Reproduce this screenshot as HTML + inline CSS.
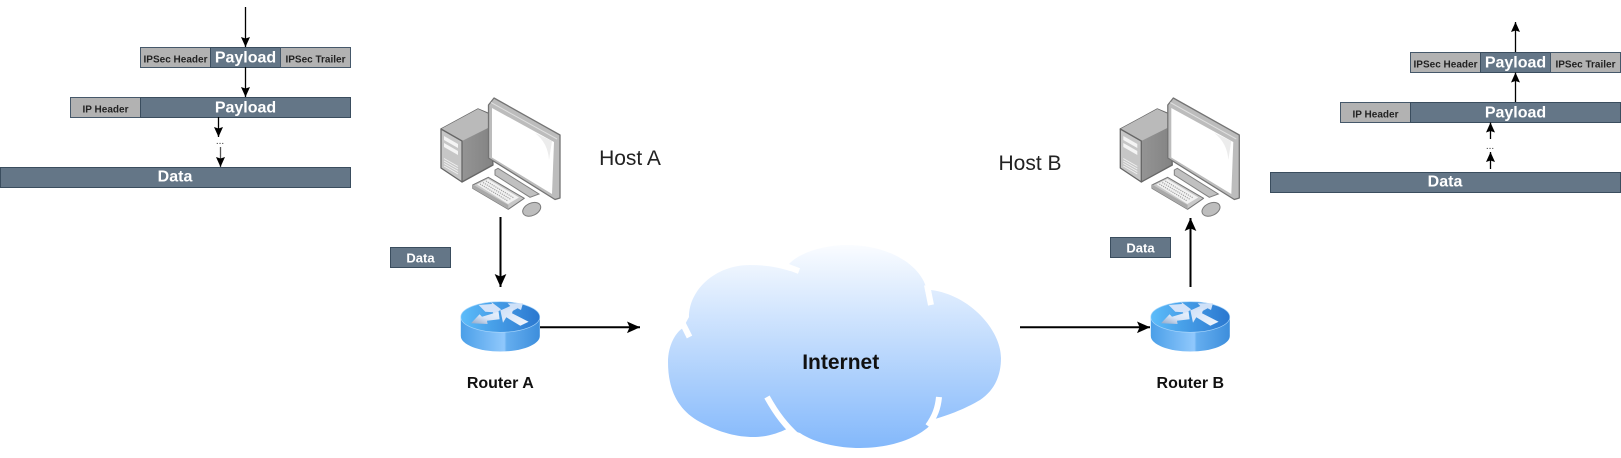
<!DOCTYPE html>
<html><head><meta charset="utf-8"><style>
html,body{margin:0;padding:0;background:#fff;width:1621px;height:458px;overflow:hidden}
svg{display:block}
text{font-family:"Liberation Sans",sans-serif}
.b{font-weight:bold;text-anchor:middle}
.h{font-size:10px;fill:#222}
.p{font-size:16px;fill:#fff}
.gray{fill:#b2b2b2;stroke:#45586a}
.blue{fill:#647687;stroke:#3a4d5e}
.l1{stroke:#000;stroke-width:1.300;fill:none;marker-end:url(#s)}
.l2{stroke:#000;stroke-width:2;fill:none;marker-end:url(#m)}
</style></head><body>
<svg width="1621" height="458" viewBox="0 0 1621 458" xmlns="http://www.w3.org/2000/svg">
<defs>
<marker id="s" viewBox="0 0 10 10" refX="10" refY="5" markerWidth="10" markerHeight="10" markerUnits="userSpaceOnUse" orient="auto"><path d="M0 0.500L10 5L0 9.500L1.500 5Z" fill="#000"/></marker>
<marker id="m" viewBox="0 0 10 10" refX="10" refY="5" markerWidth="13" markerHeight="13" markerUnits="userSpaceOnUse" orient="auto"><path d="M0 0.500L10 5L0 9.500L2 5Z" fill="#000"/></marker>
<linearGradient id="cl" x1="0" y1="0" x2="0" y2="1"><stop offset="0" stop-color="#fafcff"/><stop offset="1" stop-color="#83b8fb"/></linearGradient>
<linearGradient id="rt" x1="0" y1="0" x2="1" y2="0"><stop offset="0" stop-color="#5cbcfa"/><stop offset="1" stop-color="#2a77cf"/></linearGradient>
<linearGradient id="rs" x1="0" y1="0" x2="1" y2="0"><stop offset="0" stop-color="#4a9fe8"/><stop offset=".55" stop-color="#90c8fc"/><stop offset=".58" stop-color="#65aeef"/><stop offset="1" stop-color="#3d8edc"/></linearGradient>
<linearGradient id="ra" x1="0" y1="0" x2="1" y2="1"><stop offset="0" stop-color="#cfe0f8"/><stop offset="1" stop-color="#f2f6fc"/></linearGradient>
<linearGradient id="rl" x1="0" y1="1" x2="1" y2="0"><stop offset="0" stop-color="#8fa6c6"/><stop offset=".5" stop-color="#d6e4f7"/><stop offset="1" stop-color="#eaf2fc"/></linearGradient>
<linearGradient id="tw" x1="0" y1="0" x2="1" y2="0"><stop offset="0" stop-color="#a0a0a0"/><stop offset="1" stop-color="#838383"/></linearGradient>
<g id="router">
<path d="M-39.500 0V19A39.500 15.500 0 0 0 39.500 19V0Z" fill="url(#rs)"/>
<ellipse cx="0" cy="0" rx="39.500" ry="15.300" fill="url(#rt)" stroke="#a9d6fb" stroke-width=".6"/>
<polygon points="-21.700,-12 -8.300,-13 -9,-15 0.700,-7.700 -6.700,-1 -7.300,-4.700 -15,-5.300" fill="#d4e3f9"/>
<polygon points="-29.300,6.300 -20.700,-2.700 -18.300,-0.300 -1.700,-5.300 -0.700,2.300 -13.300,3.700 -12.700,7" fill="url(#rl)"/>
<polygon points="22.700,-13.700 20.700,-7 17.300,-8.700 8.300,-3.700 1.700,-7.300 10,-11 7.300,-13.700" fill="#cfe1f8"/>
<polygon points="0,-7 13.300,-8.700 11.700,-3.700 28.300,4.700 20,8.700 6,0.300 2.700,5.700" fill="url(#ra)"/>
</g>
<g id="pc">
<polygon points="441,129 478,109 490,114 493,165 462,182" fill="url(#tw)" stroke="#666" stroke-width="1.300" stroke-linejoin="round"/>
<polygon points="441,129 478,109 490,114.500 490,127 462,141" fill="#bababa"/>
<polygon points="441,129 462,141 462,182 441,168" fill="#c6c6c6" stroke="#666" stroke-width="1.300" stroke-linejoin="round"/>
<polygon points="444,136 458,144 458,148 444,140" fill="#f4f4f4"/>
<polygon points="444,143 458,151 458,155 444,147" fill="#f4f4f4"/>
<path d="M444 158.500l14 8M444 161l14 8M444 163.500l14 8M444 166l14 8" stroke="#f0f0f0" stroke-width="1"/>
<polygon points="495,170 498,168.300 539,194 530,197.300 495,175" fill="#c0c0c0" stroke="#808080" stroke-width="1"/>
<polygon points="488.500,105 494,98 560,135 560,198 555,199.500 488.500,158" fill="#bcbcbc" stroke="#747474" stroke-width="1.300" stroke-linejoin="round"/>
<path d="M491 102.500L557 139" stroke="#dedede" stroke-width="1" fill="none"/>
<polygon points="492,108 554,142 552,194 492,157.500" fill="#fff"/>
<path d="M535 133Q548 143 549 160L552 141Z" fill="#ececec"/>
<polygon points="472.700,185 488.300,177.300 524.300,198.300 508.300,209.300 472.700,188.300" fill="#c8c8c8" stroke="#767676" stroke-width="1" stroke-linejoin="round"/>
<polygon points="472.700,188.300 508.300,209.300 508.300,205 472.700,184.500" fill="#a9a9a9"/>
<polygon points="477,184.500 488,179 519,197.500 508,204" fill="#f2f2f2"/>
<path d="M480 184l28 17M483 182.500l28 17M486 181l28 17" stroke="#a2a2a2" stroke-width="1.200" stroke-dasharray="1.200 1"/>
<ellipse cx="531.700" cy="209.300" rx="9.500" ry="6.200" transform="rotate(-25 531.700 209.300)" fill="#bdbdbd" stroke="#7a7a7a" stroke-width="1"/>
</g>
</defs>

<!-- left stack -->
<line x1="245.500" y1="7" x2="245.500" y2="47" class="l1"/>
<rect x="140.500" y="47.500" width="70" height="20" class="gray"/>
<rect x="210.500" y="47.500" width="70" height="20" class="blue"/>
<rect x="280.500" y="47.500" width="70" height="20" class="gray"/>
<text x="175.500" y="62.500" class="b h">IPSec Header</text>
<text x="245.500" y="62.500" class="b p">Payload</text>
<text x="315.500" y="62.500" class="b h">IPSec Trailer</text>
<line x1="245.500" y1="67" x2="245.500" y2="97" class="l1"/>
<rect x="70.500" y="97.500" width="70" height="20" class="gray"/>
<rect x="140.500" y="97.500" width="210" height="20" class="blue"/>
<text x="105.500" y="112.700" class="b h">IP Header</text>
<text x="245.500" y="112.700" class="b p">Payload</text>
<line x1="218.500" y1="117" x2="218.500" y2="137" class="l1"/>
<text x="220" y="144" font-size="10" text-anchor="middle" fill="#333">...</text>
<line x1="220.500" y1="147" x2="220.500" y2="167" class="l1" style="stroke:#555"/>
<rect x="0.500" y="167.500" width="350" height="20" class="blue"/>
<text x="175" y="181.700" class="b p">Data</text>

<!-- right stack -->
<line x1="1515.500" y1="52" x2="1515.500" y2="22" class="l1"/>
<rect x="1410.500" y="52.500" width="70" height="20" class="gray"/>
<rect x="1480.500" y="52.500" width="70" height="20" class="blue"/>
<rect x="1550.500" y="52.500" width="70" height="20" class="gray"/>
<text x="1445.500" y="67.500" class="b h">IPSec Header</text>
<text x="1515.500" y="67.500" class="b p">Payload</text>
<text x="1585.500" y="67.500" class="b h">IPSec Trailer</text>
<line x1="1515.500" y1="102" x2="1515.500" y2="72.500" class="l1"/>
<rect x="1340.500" y="102.500" width="70" height="20" class="gray"/>
<rect x="1410.500" y="102.500" width="210" height="20" class="blue"/>
<text x="1375.500" y="117.700" class="b h">IP Header</text>
<text x="1515.500" y="117.700" class="b p">Payload</text>
<line x1="1490.500" y1="139" x2="1490.500" y2="122.500" class="l1"/>
<text x="1490" y="149" font-size="10" text-anchor="middle" fill="#333">...</text>
<line x1="1490.500" y1="169" x2="1490.500" y2="152" class="l1"/>
<rect x="1270.500" y="172.500" width="350" height="20" class="blue"/>
<text x="1445" y="186.700" class="b p">Data</text>

<!-- computers -->
<use href="#pc"/>
<use href="#pc" x="679.300"/>
<text x="630" y="165" font-size="21" text-anchor="middle" fill="#222">Host A</text>
<text x="1030" y="170" font-size="21" text-anchor="middle" fill="#222">Host B</text>

<!-- data tags -->
<rect x="390.500" y="247.500" width="60" height="20" class="blue"/>
<text x="420.500" y="262.500" class="b" font-size="13" fill="#fff">Data</text>
<rect x="1110.500" y="237.500" width="60" height="20" class="blue"/>
<text x="1140.500" y="252.500" class="b" font-size="13" fill="#fff">Data</text>

<!-- routers -->
<use href="#router" x="500.300" y="317"/>
<use href="#router" x="1190.300" y="317"/>
<text x="500.300" y="388" class="b" font-size="16" fill="#111">Router A</text>
<text x="1190.300" y="388" class="b" font-size="16" fill="#111">Router B</text>

<!-- connectors -->
<line x1="500.500" y1="217" x2="500.500" y2="287" class="l2"/>
<line x1="540" y1="327.300" x2="640" y2="327.300" class="l2"/>
<line x1="1020" y1="327.300" x2="1150" y2="327.300" class="l2"/>
<line x1="1190.500" y1="287" x2="1190.500" y2="218" class="l2"/>

<!-- cloud -->
<path d="M683 328C676 332 668 345 668 362C668 390 678 410 700 422C720 433 738 437 753 437C768 437 778 433 787 429L800 433C815 443 838 448 860 448C900 448 928 432 935 419C955 413 968 407 980 400C995 390 1001 375 1001 358C1001 330 970 295 931 290L927 290C920 262 885 245 847 245C825 245 800 252 789 264L797 268L790 271C778 267 765 265 750 265C715 265 689 290 689 317Z" fill="url(#cl)"/>
<g fill="none" stroke="#fff" stroke-width="6">
<path d="M682 322L689.500 337"/>
<path d="M783 265L799 271"/>
<path d="M927 285L931 305"/>
<path d="M939 397C938 408 935 416 928 426"/>
<path d="M767 397C777 415 786 426 797 436C803 441 808 443 814 446"/>
</g>
<text x="840.700" y="369" class="b" font-size="21" fill="#111">Internet</text>
</svg>
</body></html>
